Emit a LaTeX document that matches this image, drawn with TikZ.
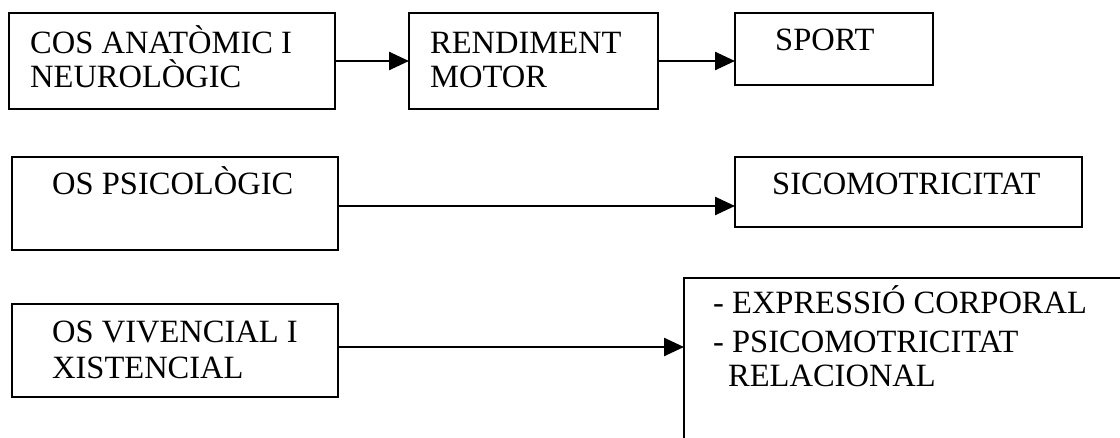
\documentclass[tikz,border=0pt]{standalone}
\usepackage{fontspec}
\setmainfont{Liberation Serif}
\usetikzlibrary{arrows.meta}

\tikzset{
  box/.style={draw, line width=2.5pt, rectangle, inner sep=0pt, outer sep=0pt, anchor=north west},
  label/.style={inner sep=0pt, anchor=base west, font=\fontsize{32.5}{37}\selectfont},
  link/.style={line width=2.5pt, -{Triangle[length=20pt,width=18pt]}}
}

\begin{document}
\begin{tikzpicture}[x=1pt, y=-1pt]
  \useasboundingbox (0,0) rectangle (1120,437);
  \clip (0,0) rectangle (1120,437);

  % boxes (top-left corner, size)
  \node[box, minimum width=326pt, minimum height=96pt] (b1) at (9,13) {};
  \node[box, minimum width=249pt, minimum height=96pt] (b2) at (409,13) {};
  \node[box, minimum width=198pt, minimum height=72pt] (b3) at (735,13) {};
  \node[box, minimum width=326pt, minimum height=93pt] (b4) at (12,157) {};
  \node[box, minimum width=347pt, minimum height=70pt] (b5) at (735,157) {};
  \node[box, minimum width=326pt, minimum height=93pt] (b6) at (12,304) {};
  \node[box, minimum width=470pt, minimum height=190pt] (b7) at (684,278) {};

  % texts
  \node[label] (t1a) at (30,53) {COS ANATÒMIC I};
  \node[label] (t1b) at (30,87) {NEUROLÒGIC};
  \node[label] (t2a) at (430,53) {RENDIMENT};
  \node[label] (t2b) at (430,87) {MOTOR};
  \node[label] (t3) at (775,50) {SPORT};
  \node[label] (t4) at (52,194) {OS PSICOLÒGIC};
  \node[label] (t5) at (772,194) {SICOMOTRICITAT};
  \node[label] (t6a) at (52,342) {OS VIVENCIAL I};
  \node[label] (t6b) at (52,378) {XISTENCIAL};
  \node[label] (t7a) at (713,313) {- EXPRESSIÓ CORPORAL};
  \node[label] (t7b) at (713,352) {- PSICOMOTRICITAT};
  \node[label] (t7c) at (728,386) {RELACIONAL};

  % connector start points on the box sides
  \coordinate (s4) at ([yshift=-2.5pt]b4.east);
  \coordinate (s6) at ([yshift=3.5pt]b6.east);

  % connectors
  \draw[link] (b1.east) -- (b2.west);
  \draw[link] (b2.east) -- (b3.west |- b2.east);
  \draw[link] (s4) -- (b5.west |- s4);
  \draw[link] (s6) -- (b7.west |- s6);
\end{tikzpicture}
\end{document}
